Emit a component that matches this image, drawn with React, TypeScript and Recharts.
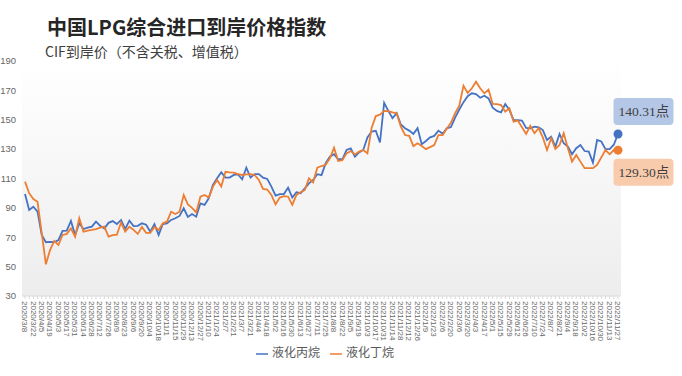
import React from 'react'
import { LineChart, Line, XAxis, YAxis, CartesianGrid, Legend } from 'recharts'

// weekly dates, 2020/3/8 .. 2022/11/27
const dates = [
  '2020/3/8', '2020/3/15', '2020/3/22', '2020/3/29', '2020/4/5', '2020/4/12', '2020/4/19', '2020/4/26',
  '2020/5/3', '2020/5/10', '2020/5/17', '2020/5/24', '2020/5/31', '2020/6/7', '2020/6/14', '2020/6/21',
  '2020/6/28', '2020/7/5', '2020/7/12', '2020/7/19', '2020/7/26', '2020/8/2', '2020/8/9', '2020/8/16',
  '2020/8/23', '2020/8/30', '2020/9/6', '2020/9/13', '2020/9/20', '2020/9/27', '2020/10/4', '2020/10/11',
  '2020/10/18', '2020/10/25', '2020/11/1', '2020/11/8', '2020/11/15', '2020/11/22', '2020/11/29', '2020/12/6',
  '2020/12/13', '2020/12/20', '2020/12/27',
  '2021/1/3', '2021/1/10', '2021/1/17', '2021/1/24', '2021/1/31', '2021/2/7', '2021/2/14', '2021/2/21',
  '2021/2/28', '2021/3/7', '2021/3/14', '2021/3/21', '2021/3/28', '2021/4/4', '2021/4/11', '2021/4/18',
  '2021/4/25', '2021/5/2', '2021/5/9', '2021/5/16', '2021/5/23', '2021/5/30', '2021/6/6', '2021/6/13',
  '2021/6/20', '2021/6/27', '2021/7/4', '2021/7/11', '2021/7/18', '2021/7/25', '2021/8/1', '2021/8/8',
  '2021/8/15', '2021/8/22', '2021/8/29', '2021/9/5', '2021/9/12', '2021/9/19', '2021/9/26', '2021/10/3',
  '2021/10/10', '2021/10/17', '2021/10/24', '2021/10/31', '2021/11/7', '2021/11/14', '2021/11/21', '2021/11/28',
  '2021/12/5', '2021/12/12', '2021/12/19', '2021/12/26',
  '2022/1/2', '2022/1/9', '2022/1/16', '2022/1/23', '2022/1/30', '2022/2/6', '2022/2/13', '2022/2/20',
  '2022/2/27', '2022/3/6', '2022/3/13', '2022/3/20', '2022/3/27', '2022/4/3', '2022/4/10', '2022/4/17',
  '2022/4/24', '2022/5/1', '2022/5/8', '2022/5/15', '2022/5/22', '2022/5/29', '2022/6/5', '2022/6/12',
  '2022/6/19', '2022/6/26', '2022/7/3', '2022/7/10', '2022/7/17', '2022/7/24', '2022/7/31', '2022/8/7',
  '2022/8/14', '2022/8/21', '2022/8/28', '2022/9/4', '2022/9/11', '2022/9/18', '2022/9/25', '2022/10/2',
  '2022/10/9', '2022/10/16', '2022/10/23', '2022/10/30', '2022/11/6', '2022/11/13', '2022/11/20', '2022/11/27',
]

// 液化丙烷
const propane = [
  99.5, 88.6, 90.8, 87.4, 71.5, 66.6, 66.8, 66.6, 68.1, 74.3,
  74.5, 81.1, 71.5, 79.5, 75.6, 76.5, 77.2, 80.6, 77.8, 76,
  79.8, 81, 79, 81.8, 75.6, 81.3, 77.6, 77.8, 79.5, 78.5,
  73.8, 78.9, 71.6, 79, 79.5, 81.8, 82.9, 84.5, 89.7, 83.8,
  85.8, 84, 93.1, 92, 96.5, 105.6, 110.1, 114.2, 110.6, 110.6,
  112.4, 112.8, 109.5, 117.4, 110.6, 113, 113, 110.6, 109.7, 104.5,
  98.3, 99.4, 99.4, 103.8, 97, 100.6, 100, 103.3, 106.7, 109,
  112.9, 112.3, 120.4, 124.9, 126.5, 123.1, 123.1, 129.4, 130.5, 124.9,
  127.8, 129.4, 138, 142, 142.5, 134.5, 161.5, 156, 151, 154.5,
  146.8, 144.2, 142.6, 140.3, 144.3, 133.4, 135.5, 138, 139, 142.6,
  140.5, 144.2, 145, 151.5, 157, 162, 166, 168, 167.5, 165,
  166.4, 164.5, 158.2, 156, 155, 160.7, 156.6, 149.8, 149.8, 149.4,
  144.5, 144.2, 145.3, 144.9, 143, 136.2, 138.5, 131.7, 140.3, 134,
  131.7, 126.5, 130.6, 132.8, 128.7, 128.3, 120.8, 136.2, 135.2, 130,
  130, 133, 140.31,
]

// 液化丁烷
const butane = [
  107.9, 100, 96, 94.2, 73, 51.6, 61.3, 67.5, 64.7, 71.6,
  72.3, 76, 70.4, 82.9, 73.8, 74.5, 75, 75.6, 76.5, 77.2,
  70.4, 71.5, 71.7, 80, 73.8, 77.2, 75, 72.3, 77, 73,
  73, 77, 75, 79.5, 80.6, 87.4, 85.8, 87.4, 98.8, 92.4,
  90, 86.9, 97.6, 98.8, 97, 104.5, 109, 104.5, 114.6, 114.2,
  114, 113, 112.4, 112.8, 113, 112.4, 109, 102.9, 102.5, 98.8,
  92.4, 97, 98, 97.6, 92, 98.8, 100.6, 102.2, 110.1, 107.4,
  117.4, 118.5, 119.3, 123.8, 131, 121.9, 122.5, 127.1, 128.7, 126.4,
  128.3, 129.4, 127.1, 144.4, 152.5, 153.5, 156, 155.8, 155, 154.4,
  145.3, 139.6, 139, 132.1, 134, 132.1, 130, 131.4, 132.8, 139.6,
  139.6, 143.8, 148, 154.5, 159.5, 173.2, 168.2, 171.4, 175.9, 171.4,
  168, 170.5, 160.8, 160.7, 160, 155.5, 157.8, 148.7, 149.4, 144.9,
  140.3, 145.8, 140.8, 144.2, 138, 129.4, 137.4, 130.1, 132.8, 140.8,
  130.6, 121.5, 126, 121.5, 117, 117, 117, 119.2, 124.4, 129.4,
  126.5, 129.4, 129.3,
]

const yTicks = [30, 50, 70, 90, 110, 130, 150, 170, 190]

const data = dates.map((d, i) => ({ date: d, propane: propane[i], butane: butane[i] }))
const lastIndex = dates.length - 1

const BLUE = '#4472C4'
const ORANGE = '#ED7D31'
const seriesOrder = ['propane', 'butane']

// every week gets a tick mark, every other week gets a label
const DateTick = (props: any) => {
  const { x, y, payload, index } = props
  if (index % 2 !== 0) return <g />
  return (
    <text
      x={x}
      y={y}
      transform={`rotate(90 ${x} ${y})`}
      textAnchor="start"
      dy="0.35em"
      fontSize={8}
      fill="#666666"
    >
      {payload.value}
    </text>
  )
}

const endLabel = (color: string, bg: string, above: boolean) => (props: any) => {
  const { cx, cy, index, value } = props
  if (index !== lastIndex) return <g key={index} />
  const ry = above ? cy - 36 : cy + 8.5
  return (
    <g key={index}>
      <rect x={cx - 4.5} y={ry} width={60} height={27} rx={4} fill={bg} />
      <text
        x={cx + 0.5}
        y={ry + 14}
        dominantBaseline="central"
        fontSize={13.5}
        fill="#404040"
        fontFamily='"Liberation Serif", "Noto Sans CJK SC", serif'
      >
        {`${Number(value).toFixed(2)}点`}
      </text>
      <circle cx={cx} cy={cy} r={4.5} fill={color} />
    </g>
  )
}

export default function App() {
  return (
    <div
      style={{
        position: 'absolute',
        left: 0,
        top: 0,
        width: 682,
        height: 376,
        background: '#fff',
        fontFamily: '"Liberation Sans", "Noto Sans CJK SC", sans-serif',
      }}
    >
      <LineChart
        width={682}
        height={376}
        data={data}
        margin={{ top: 61, right: 61, bottom: 0, left: 0 }}
        style={{ position: 'absolute', left: 0, top: 0 }}
      >
        <defs>
          <linearGradient id="plotBg" x1="0" y1="0" x2="0" y2="1">
            <stop offset="0%" stopColor="#ffffff" />
            <stop offset="100%" stopColor="#ededed" />
          </linearGradient>
        </defs>
        <CartesianGrid horizontal={false} vertical={false} fill="url(#plotBg)" stroke="none" />
        <XAxis
          dataKey="date"
          interval={0}
          tick={<DateTick />}
          tickLine={{ stroke: '#d9d9d9' }}
          tickSize={3}
          axisLine={{ stroke: '#d9d9d9' }}
          height={50}
          padding={{ left: 3, right: 3 }}
        />
        <YAxis
          domain={[30, 190]}
          ticks={yTicks}
          interval={0}
          axisLine={false}
          tickLine={false}
          tickSize={4}
          tickMargin={2}
          width={22}
          tick={{ fontSize: 9.5, fill: '#666666' }}
        />
        <Legend
          verticalAlign="bottom"
          align="center"
          height={30}
          iconType="plainline"
          iconSize={12}
          itemSorter={(item: any) => seriesOrder.indexOf(item.dataKey)}
          wrapperStyle={{ fontSize: 12, lineHeight: '14px', left: 0, width: 660 }}
          formatter={(v: string) => <span style={{ color: '#595959' }}>{v}</span>}
        />
        <Line
          type="linear"
          dataKey="propane"
          name="液化丙烷"
          stroke={BLUE}
          strokeWidth={1.8}
          dot={endLabel(BLUE, '#b4c7e7', true)}
          activeDot={false}
          isAnimationActive={false}
        />
        <Line
          type="linear"
          dataKey="butane"
          name="液化丁烷"
          stroke={ORANGE}
          strokeWidth={1.8}
          dot={endLabel(ORANGE, '#f8cbad', false)}
          activeDot={false}
          isAnimationActive={false}
        />
      </LineChart>
      <div
        style={{
          position: 'absolute',
          left: 47,
          top: 15,
          fontSize: 20,
          lineHeight: '24px',
          fontWeight: 700,
          color: '#262626',
          fontFamily: '"Noto Sans CJK SC", sans-serif',
          whiteSpace: 'nowrap',
        }}
      >
        中国LPG综合进口到岸价格指数
      </div>
      <div
        style={{
          position: 'absolute',
          left: 45,
          top: 42,
          fontSize: 14,
          lineHeight: '18px',
          color: '#404040',
          fontFamily: '"Noto Sans CJK SC", sans-serif',
          whiteSpace: 'nowrap',
        }}
      >
        CIF到岸价（不含关税、增值税）
      </div>
    </div>
  )
}
